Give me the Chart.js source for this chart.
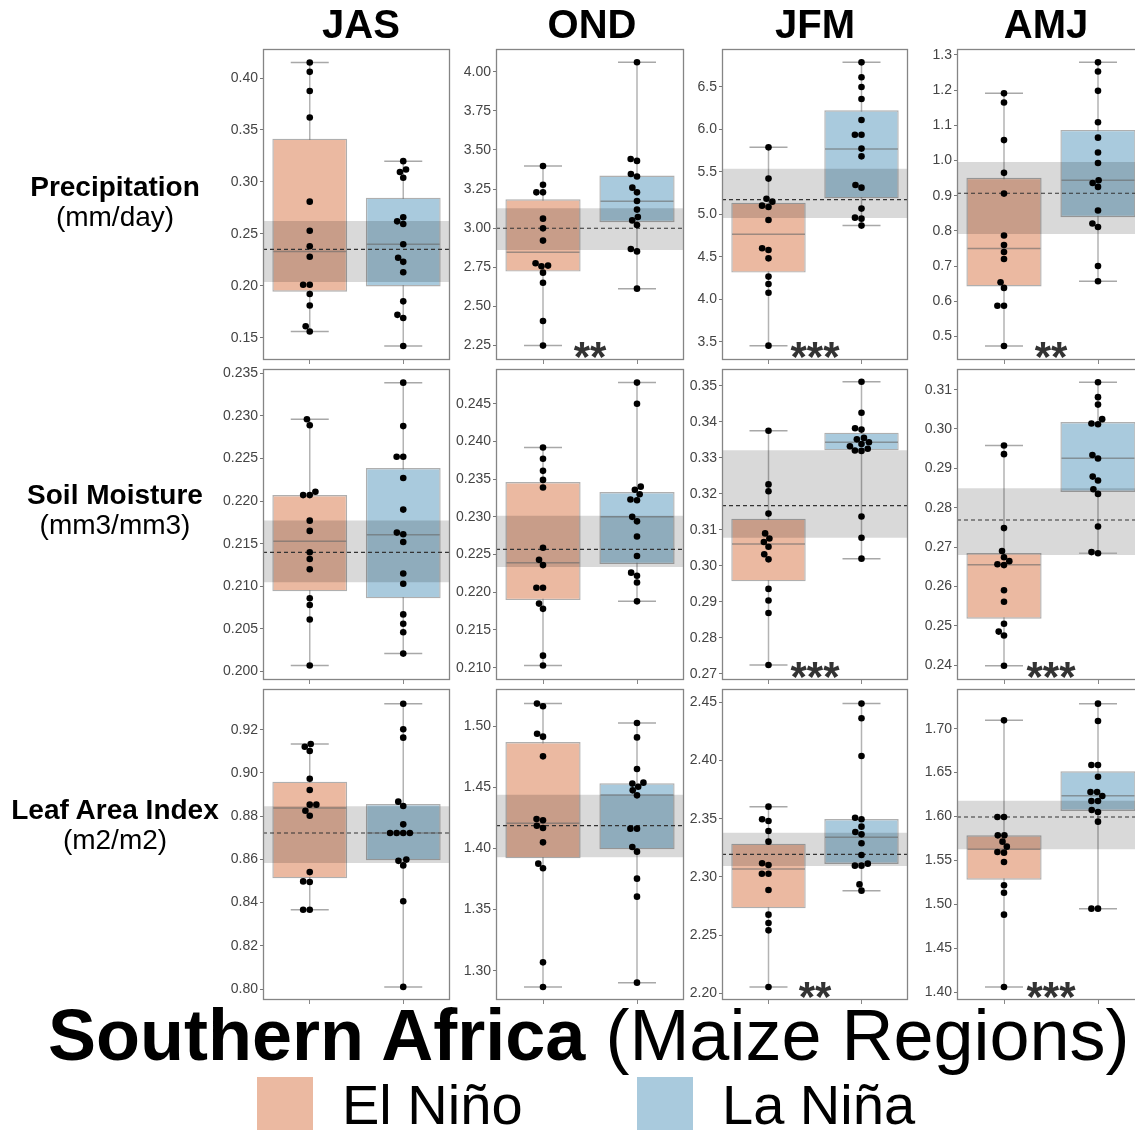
<!DOCTYPE html>
<html>
<head>
<meta charset="utf-8">
<script src="https://cdn.jsdelivr.net/npm/chart.js@4.4.1/dist/chart.umd.min.js"></script>
<style>
  html, body { margin: 0; padding: 0; width: 1135px; height: 1130px; overflow: hidden; background: #fff; font-family: "Liberation Sans", Arial, sans-serif; }
  .t { position: absolute; white-space: nowrap; line-height: 1; color: #000; }
  canvas { position: absolute; }
  .sq { position: absolute; width: 56px; height: 56px; }
</style>
</head>
<body>
<script>
// ---- data ----
const seasons = ['JAS', 'OND', 'JFM', 'AMJ'];
const variableNames = ['Precipitation', 'Soil Moisture', 'Leaf Area Index'];
const variableUnits = ['(mm/day)', '(mm3/mm3)', '(m2/m2)'];
const phases = ['El Niño', 'La Niña'];

// yearly values per season (JAS, OND, JFM, AMJ)
const precipNino = [
  [0.415, 0.406, 0.3875, 0.362, 0.281, 0.253, 0.238, 0.228, 0.201, 0.201, 0.192, 0.181, 0.161, 0.156],
  [3.397, 3.278, 3.229, 3.229, 3.061, 2.999, 2.921, 2.776, 2.761, 2.757, 2.716, 2.652, 2.407, 2.250],
  [5.786, 5.418, 5.182, 5.147, 5.100, 5.084, 4.931, 4.598, 4.578, 4.480, 4.265, 4.178, 4.076, 3.453],
  [1.191, 1.165, 1.058, 0.965, 0.906, 0.787, 0.760, 0.740, 0.720, 0.654, 0.638, 0.587, 0.587, 0.473]
];
const precipNina = [
  [0.320, 0.312, 0.3095, 0.304, 0.266, 0.262, 0.2595, 0.240, 0.227, 0.223, 0.213, 0.185, 0.172, 0.169, 0.142],
  [4.060, 3.442, 3.430, 3.346, 3.330, 3.259, 3.229, 3.174, 3.119, 3.072, 3.050, 3.021, 2.867, 2.852, 2.614],
  [6.786, 6.610, 6.496, 6.355, 6.108, 5.935, 5.935, 5.771, 5.680, 5.343, 5.312, 5.065, 4.959, 4.947, 4.865],
  [1.279, 1.253, 1.198, 1.109, 1.065, 1.023, 0.993, 0.944, 0.936, 0.925, 0.858, 0.821, 0.811, 0.700, 0.657]
];
const soilNino = [
  [0.2296, 0.2289, 0.2211, 0.2207, 0.2207, 0.2177, 0.2165, 0.2140, 0.2132, 0.2120, 0.2086, 0.2078, 0.2061, 0.2007],
  [0.2392, 0.2377, 0.2361, 0.2349, 0.2339, 0.2259, 0.2243, 0.2236, 0.2206, 0.2206, 0.2185, 0.2178, 0.2116, 0.2103],
  [0.3375, 0.3226, 0.3207, 0.3145, 0.3090, 0.3076, 0.3066, 0.3053, 0.3032, 0.3018, 0.2936, 0.2904, 0.2869, 0.2725],
  [0.2958, 0.2936, 0.2748, 0.2690, 0.2674, 0.2664, 0.2656, 0.2654, 0.2590, 0.2561, 0.2505, 0.2485, 0.2475, 0.2398]
];
const soilNina = [
  [0.2339, 0.2288, 0.2252, 0.2252, 0.2227, 0.2190, 0.2163, 0.2161, 0.2152, 0.2115, 0.2103, 0.2067, 0.2056, 0.2046, 0.2021],
  [0.2478, 0.2450, 0.2340, 0.2336, 0.2330, 0.2323, 0.2322, 0.2300, 0.2294, 0.2274, 0.2248, 0.2226, 0.2222, 0.2213, 0.2188],
  [0.3511, 0.3425, 0.3382, 0.3378, 0.3355, 0.3351, 0.3343, 0.3338, 0.3332, 0.3325, 0.3320, 0.3319, 0.3137, 0.3078, 0.3020],
  [0.3119, 0.3081, 0.3062, 0.3025, 0.3014, 0.3012, 0.2934, 0.2925, 0.2879, 0.2869, 0.2847, 0.2835, 0.2752, 0.2687, 0.2684]
];
const laiNino = [
  [0.9134, 0.9121, 0.9101, 0.8973, 0.8921, 0.8853, 0.8853, 0.8825, 0.8802, 0.8541, 0.8498, 0.8495, 0.8367, 0.8367],
  [1.5183, 1.5161, 1.4937, 1.4913, 1.4752, 1.4240, 1.4229, 1.4185, 1.4166, 1.4049, 1.3875, 1.3837, 1.3068, 1.2867],
  [2.3604, 2.3495, 2.3481, 2.3395, 2.3303, 2.3117, 2.3103, 2.3028, 2.3028, 2.2888, 2.2676, 2.2604, 2.2541, 2.2054],
  [1.7095, 1.5994, 1.5994, 1.5785, 1.5785, 1.5713, 1.5656, 1.5595, 1.5588, 1.5481, 1.5216, 1.5132, 1.4882, 1.4058]
];
const laiNina = [
  [0.9320, 0.9202, 0.9163, 0.8867, 0.8847, 0.8762, 0.8722, 0.8722, 0.8722, 0.8722, 0.8599, 0.8593, 0.8572, 0.8406, 0.8010],
  [1.5025, 1.4907, 1.4649, 1.4537, 1.4529, 1.4504, 1.4474, 1.4433, 1.4161, 1.4161, 1.4011, 1.3973, 1.3752, 1.3605, 1.2902],
  [2.4489, 2.4363, 2.4039, 2.3509, 2.3495, 2.3432, 2.3386, 2.3366, 2.3289, 2.3188, 2.3114, 2.3097, 2.3097, 2.2936, 2.2882],
  [1.7285, 1.7087, 1.6586, 1.6586, 1.6453, 1.6279, 1.6279, 1.6233, 1.6176, 1.6176, 1.6074, 1.6051, 1.5941, 1.4950, 1.4950]
];

// box quartiles [q1, median, q3]
const precipNinoBox = [[0.1943, 0.233, 0.3416], [2.723, 2.846, 3.185], [4.312, 4.763, 5.135], [0.642, 0.750, 0.951]];
const precipNinaBox = [[0.1994, 0.240, 0.2848], [3.038, 3.172, 3.336], [5.186, 5.767, 6.222], [0.839, 0.944, 1.087]];
const soilNinoBox = [[0.20941, 0.21527, 0.2207], [0.21897, 0.22392, 0.23461], [0.29571, 0.30607, 0.3131], [0.25178, 0.2655, 0.26847]];
const soilNinaBox = [[0.20859, 0.21605, 0.22387], [0.22374, 0.23002, 0.23329], [0.33206, 0.33428, 0.33696], [0.28398, 0.29254, 0.30178]];
const laiNinoBox = [[0.85123, 0.88376, 0.89594], [1.39183, 1.42044, 1.48692], [2.27302, 2.30682, 2.32858], [1.52802, 1.56257, 1.57851]];
const laiNinaBox = [[0.85955, 0.8722, 0.88561], [1.39918, 1.4436, 1.45313], [2.31111, 2.33402, 2.34977], [1.60622, 1.62369, 1.6514]];

// climatology band [low, mean, high]
const precipClim = [[0.2036, 0.235, 0.2623], [2.861, 3.0, 3.127], [4.955, 5.171, 5.535], [0.791, 0.907, 0.996]];
const soilClim = [[0.21047, 0.21398, 0.21773], [0.22335, 0.22569, 0.23015], [0.30782, 0.31670, 0.33206], [0.26797, 0.27686, 0.28492]];
const laiClim = [[0.85832, 0.8722, 0.88453], [1.39264, 1.41853, 1.44387], [2.30939, 2.31942, 2.33803], [1.56257, 1.59939, 1.618]];

// significance labels
const precipStars = ['', '**', '***', '**'];
const soilStars = ['', '', '***', '***'];
const laiStars = ['', '', '**', '***'];

// y axis ranges and tick steps
const precipRange = [[0.1285, 0.428], [2.158, 4.145], [3.284, 6.943], [0.433, 1.317]];
const soilRange = [[0.1990, 0.2355], [0.20837, 0.2496], [0.26833, 0.35462], [0.23619, 0.31525]];
const laiRange = [[0.79494, 0.93881], [1.27602, 1.53025], [2.19428, 2.46145], [1.39097, 1.74518]];
const precipStep = [0.05, 0.25, 0.5, 0.1];
const soilStep = [0.005, 0.005, 0.01, 0.01];
const laiStep = [0.02, 0.05, 0.05, 0.05];

// ---- layout / style ----
const phaseColors = ['#ebb9a1', '#a9cadd'];
const rowTops = [49, 369, 689];
const colLefts = [263, 496, 722, 957];
const colWidths = [187, 188, 186, 188];
const plotH = 311;
const axisW = 60, padTop = 12, padRight = 6, padBottom = 24;
const dotR = 3.3, dotGap = 6.6;

const variables = [
  { pts: [precipNino, precipNina], box: [precipNinoBox, precipNinaBox], clim: precipClim, range: precipRange, step: precipStep, stars: precipStars },
  { pts: [soilNino, soilNina], box: [soilNinoBox, soilNinaBox], clim: soilClim, range: soilRange, step: soilStep, stars: soilStars },
  { pts: [laiNino, laiNina], box: [laiNinoBox, laiNinaBox], clim: laiClim, range: laiRange, step: laiStep, stars: laiStars }
];

Chart.defaults.font.family = '"Liberation Sans", Arial, sans-serif';

// beeswarm offsets (pixels), lowest values placed first, left side preferred
function swarm(values, pxPerY, d) {
  const order = values.map((v, i) => i).sort((a, b) => values[a] - values[b]);
  const placed = [];
  const out = new Array(values.length).fill(0);
  for (const i of order) {
    const y = values[i] * pxPerY;
    const near = placed.filter(p => Math.abs(p.y - y) < d);
    const cands = [0];
    near.forEach(p => {
      const dx = Math.sqrt(d * d - (p.y - y) ** 2);
      cands.push(p.x - dx, p.x + dx);
    });
    cands.sort((a, b) => Math.abs(a) - Math.abs(b));
    const x = cands.find(c => near.every(p => (p.x - c) ** 2 + (p.y - y) ** 2 >= d * d - 1e-6));
    placed.push({ x, y });
    out[i] = x;
  }
  return out;
}

function text(str, opts) {
  const el = document.createElement('div');
  el.className = 't';
  el.innerHTML = str;
  el.style.fontSize = opts.size + 'px';
  el.style.fontWeight = opts.bold ? 'bold' : 'normal';
  el.style.top = (opts.baseline - 0.8465 * opts.size) + 'px';
  if (opts.cx !== undefined) {
    el.style.left = (opts.cx - 300) + 'px';
    el.style.width = '600px';
    el.style.textAlign = 'center';
  } else {
    el.style.left = opts.left + 'px';
  }
  document.body.appendChild(el);
}

function buildPanel(r, c) {
  const v = variables[r];
  const [lo, hi] = v.range[c];
  const step = v.step[c];
  const dec = (String(step).split('.')[1] || '').length;
  const w = colWidths[c];
  const groups = [0, 1];
  const pts = groups.map(g => v.pts[g][c]);
  const boxes = groups.map(g => v.box[g][c]);
  const clim = v.clim[c];
  const pxPerY = plotH / (hi - lo);
  const xUnit = w / 2;
  const offs = pts.map(vals => swarm(vals, pxPerY, dotGap).map(px => px / xUnit));
  const wLo = pts.map(a => Math.min(...a));
  const wHi = pts.map(a => Math.max(...a));
  const stars = v.stars[c];

  const canvas = document.createElement('canvas');
  const cw = axisW + w + padRight, ch = padTop + plotH + padBottom;
  canvas.width = cw; canvas.height = ch;
  canvas.style.width = cw + 'px'; canvas.style.height = ch + 'px';
  canvas.style.left = (colLefts[c] - axisW) + 'px';
  canvas.style.top = (rowTops[r] - padTop) + 'px';
  document.body.appendChild(canvas);

  const deco = {
    id: 'deco',
    afterDraw(chart) {
      const { ctx, chartArea: a } = chart;
      ctx.save();
      ctx.strokeStyle = '#858585';
      ctx.lineWidth = 1.3;
      ctx.strokeRect(a.left + 0.5, a.top + 0.5, a.right - a.left - 1, a.bottom - a.top - 1);
      if (stars) {
        ctx.fillStyle = '#333';
        ctx.font = 'bold 42px "Liberation Sans", Arial, sans-serif';
        ctx.textAlign = 'center';
        ctx.textBaseline = 'alphabetic';
        ctx.fillText(stars, chart.scales.x.getPixelForValue(0.5), a.bottom + 11);
      }
      ctx.restore();
    }
  };

  new Chart(canvas, {
    type: 'bar',
    data: {
      datasets: [
        ...groups.map(g => ({
          type: 'line', order: 7,
          data: [{ x: g, y: wLo[g] }, { x: g, y: wHi[g] }],
          borderColor: '#b3b3b3', borderWidth: 1.5, pointRadius: 0
        })),
        {
          type: 'bar', order: 6,
          data: groups.map(g => ({ x: g, y: [boxes[g][0], boxes[g][2]] })),
          backgroundColor: phaseColors,
          borderColor: 'rgba(110,110,110,0.55)', borderWidth: 1.4, borderSkipped: false,
          barPercentage: 0.8, categoryPercentage: 1, grouped: false
        },
        {
          type: 'line', order: 5,
          data: [{ x: -0.5, y: clim[2] }, { x: 1.5, y: clim[2] }],
          fill: { value: clim[0] }, backgroundColor: 'rgba(0,0,0,0.15)',
          borderColor: 'rgba(0,0,0,0)', borderWidth: 0, pointRadius: 0
        },
        {
          type: 'line', order: 4,
          data: [{ x: -0.5, y: clim[1] }, { x: 1.5, y: clim[1] }],
          borderColor: '#333', borderWidth: 1.1, borderDash: [4, 3], pointRadius: 0
        },
        {
          type: 'scatter', order: 3,
          data: groups.map(g => ({ x: g, y: boxes[g][1] })),
          pointStyle: 'line', pointRadius: 36.5,
          pointBorderColor: 'rgba(105,105,105,0.6)', pointBorderWidth: 1.5
        },
        {
          type: 'scatter', order: 2,
          data: groups.flatMap(g => [{ x: g, y: wLo[g] }, { x: g, y: wHi[g] }]),
          pointStyle: 'line', pointRadius: 19,
          pointBorderColor: '#a8a8a8', pointBorderWidth: 1.5
        },
        ...groups.map(g => ({
          type: 'scatter', order: 1,
          label: phases[g],
          data: pts[g].map((y, i) => ({ x: g + offs[g][i], y })),
          pointRadius: dotR, pointBackgroundColor: '#000', pointBorderWidth: 0
        }))
      ]
    },
    options: {
      responsive: false,
      maintainAspectRatio: false,
      animation: false,
      events: [],
      devicePixelRatio: 1,
      layout: { autoPadding: false, padding: { top: padTop, right: padRight, left: 0, bottom: 0 } },
      plugins: { legend: { display: false }, tooltip: { enabled: false } },
      scales: {
        x: {
          type: 'linear', min: -0.5, max: 1.5, offset: false,
          grid: { offset: false, drawOnChartArea: false, tickLength: 4, color: '#888' },
          border: { display: false },
          ticks: { display: false },
          afterBuildTicks: s => { s.ticks = [{ value: 0 }, { value: 1 }]; },
          afterFit: s => { s.height = padBottom; }
        },
        y: {
          type: 'linear', min: lo, max: hi, beginAtZero: false,
          grid: { drawOnChartArea: false, tickLength: 3, color: '#777' },
          border: { display: false },
          ticks: {
            stepSize: step, includeBounds: false, autoSkip: false,
            color: '#444', padding: 2, font: { size: 14 },
            callback: val => Number(val).toFixed(dec)
          },
          afterFit: s => { s.width = axisW; }
        }
      }
    },
    plugins: [deco]
  });
}

for (let r = 0; r < 3; r++) {
  for (let c = 0; c < 4; c++) buildPanel(r, c);
}

// column and row headings
const titleCenters = [361, 592, 815, 1046];
seasons.forEach((s, i) => text(s, { size: 40, bold: true, baseline: 38, cx: titleCenters[i] }));
const nameBaselines = [197, 505, 820];
const unitBaselines = [227, 535, 850];
variableNames.forEach((n, i) => {
  text(n, { size: 28, bold: true, baseline: nameBaselines[i], cx: 115 });
  text(variableUnits[i], { size: 28, bold: false, baseline: unitBaselines[i], cx: 115 });
});

// main title and legend
text('<b>Southern Africa</b> (Maize Regions)', { size: 72, bold: false, baseline: 1060, left: 48 });
const legendBoxLefts = [257, 637];
const legendTextLefts = [342, 722];
phases.forEach((p, i) => {
  const sq = document.createElement('div');
  sq.className = 'sq';
  sq.style.left = legendBoxLefts[i] + 'px';
  sq.style.top = '1077px';
  sq.style.background = phaseColors[i];
  document.body.appendChild(sq);
  text(p, { size: 56, bold: false, baseline: 1124, left: legendTextLefts[i] });
});
</script>
</body>
</html>
